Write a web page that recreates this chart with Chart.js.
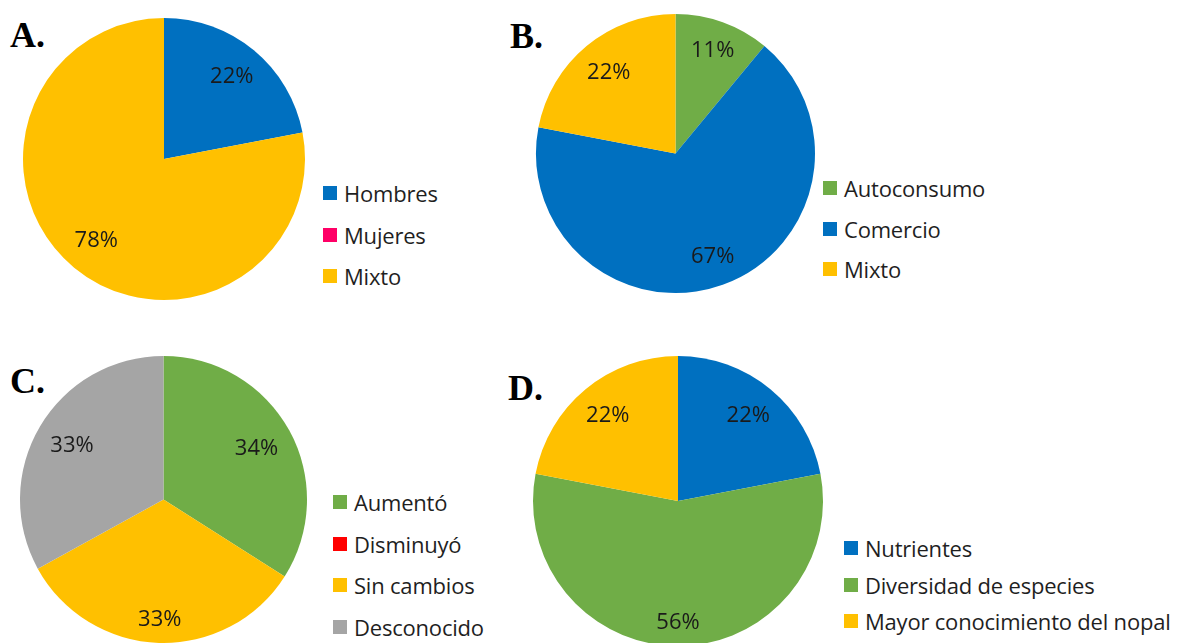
<!DOCTYPE html>
<html>
<head>
<meta charset="utf-8">
<script src="https://cdn.jsdelivr.net/npm/chart.js@4.4.0/dist/chart.umd.min.js"></script>
<style>
    html, body { margin: 0; padding: 0; background: #fff; }
    body { position: relative; width: 1179px; height: 643px; overflow: hidden; }
    .tag { position: absolute; font-family: "Liberation Serif", "Times New Roman", serif; font-weight: bold; font-size: 36px; line-height: 36px; color: #000; }
    .pie { position: absolute; }
    .legend-item { position: absolute; height: 28px; display: flex; align-items: center; font-family: "Open Sans", sans-serif; font-size: 22px; letter-spacing: -0.2px; color: #1f1f1f; white-space: nowrap; }
    .legend-item .box { width: 14px; height: 14px; margin-right: 7px; flex: none; }
</style>
</head>
<body>
<div class="tag" style="left:10px; top:17px;">A.</div>
<div class="tag" style="left:510px; top:18px;">B.</div>
<div class="tag" style="left:10px; top:363px;">C.</div>
<div class="tag" style="left:508px; top:370px;">D.</div>

<script>
(function () {
    "use strict";

    // Data
    var labelsA = ["Hombres", "Mujeres", "Mixto"];
    var valuesA = [22, 0, 78];
    var colorsA = ["#0070C0", "#FF0066", "#FFC000"];

    var labelsB = ["Autoconsumo", "Comercio", "Mixto"];
    var valuesB = [11, 67, 22];
    var colorsB = ["#70AD47", "#0070C0", "#FFC000"];

    var labelsC = ["Aumentó", "Disminuyó", "Sin cambios", "Desconocido"];
    var valuesC = [34, 0, 33, 33];
    var colorsC = ["#70AD47", "#FF0000", "#FFC000", "#A5A5A5"];

    var labelsD = ["Nutrientes", "Diversidad de especies", "Mayor conocimiento del nopal"];
    var valuesD = [22, 56, 22];
    var colorsD = ["#0070C0", "#70AD47", "#FFC000"];


    // Percent labels, kept inside the slice near its outer edge
    var pctLabels = {
        id: "pctLabels",
        afterDatasetsDraw: function (chart) {
            var ctx = chart.ctx;
            var data = chart.data.datasets[0].data;
            ctx.save();
            ctx.font = '22px "Open Sans", sans-serif';
            ctx.fillStyle = "#1a1a1a";
            ctx.textAlign = "center";
            ctx.textBaseline = "middle";
            chart.getDatasetMeta(0).data.forEach(function (arc, i) {
                if (!data[i]) return;
                var p = arc.getProps(["x", "y", "startAngle", "endAngle", "outerRadius"], true);
                var mid = (p.startAngle + p.endAngle) / 2;
                var txt = data[i] + "%";
                var hw = ctx.measureText(txt).width / 2, hh = 9;
                var ext = Math.abs(Math.cos(mid)) * hw + Math.abs(Math.sin(mid)) * hh;
                var r = p.outerRadius - 14 - ext;
                ctx.fillText(txt, p.x + Math.cos(mid) * r, p.y + Math.sin(mid) * r);
            });
            ctx.restore();
        }
    };


    // Panel layout: canvas box, legend start and row spacing
    var panels = [
        { labels: labelsA, values: valuesA, colors: colorsA, left: 19, top: 14, size: 290, legX: 323, legY: 193, legStep: 41.5 },
        { labels: labelsB, values: valuesB, colors: colorsB, left: 532, top: 10, size: 287, legX: 823, legY: 188, legStep: 40.5 },
        { labels: labelsC, values: valuesC, colors: colorsC, left: 16, top: 352, size: 295, legX: 333, legY: 502, legStep: 41.7 },
        { labels: labelsD, values: valuesD, colors: colorsD, left: 529, top: 352, size: 298, legX: 844, legY: 548, legStep: 36.5 }
    ];

    panels.forEach(function (pn) {
        var canvas = document.createElement("canvas");
        canvas.className = "pie";
        canvas.width = pn.size;
        canvas.height = pn.size;
        canvas.style.left = pn.left + "px";
        canvas.style.top = pn.top + "px";
        canvas.style.width = pn.size + "px";
        canvas.style.height = pn.size + "px";
        document.body.appendChild(canvas);

        new Chart(canvas.getContext("2d"), {
            type: "pie",
            data: {
                labels: pn.labels,
                datasets: [{
                    data: pn.values,
                    backgroundColor: pn.colors,
                    borderWidth: 0
                }]
            },
            options: {
                responsive: false,
                animation: false,
                layout: { padding: 4 },
                plugins: {
                    legend: { display: false },
                    tooltip: { enabled: false }
                }
            },
            plugins: [pctLabels]
        });

        // Legend
        pn.labels.forEach(function (lab, i) {
            var item = document.createElement("div");
            item.className = "legend-item";
            item.style.left = pn.legX + "px";
            item.style.top = (pn.legY + i * pn.legStep - 14) + "px";
            var box = document.createElement("span");
            box.className = "box";
            box.style.background = pn.colors[i];
            item.appendChild(box);
            item.appendChild(document.createTextNode(lab));
            document.body.appendChild(item);
        });
    });
})();
</script>
</body>
</html>
